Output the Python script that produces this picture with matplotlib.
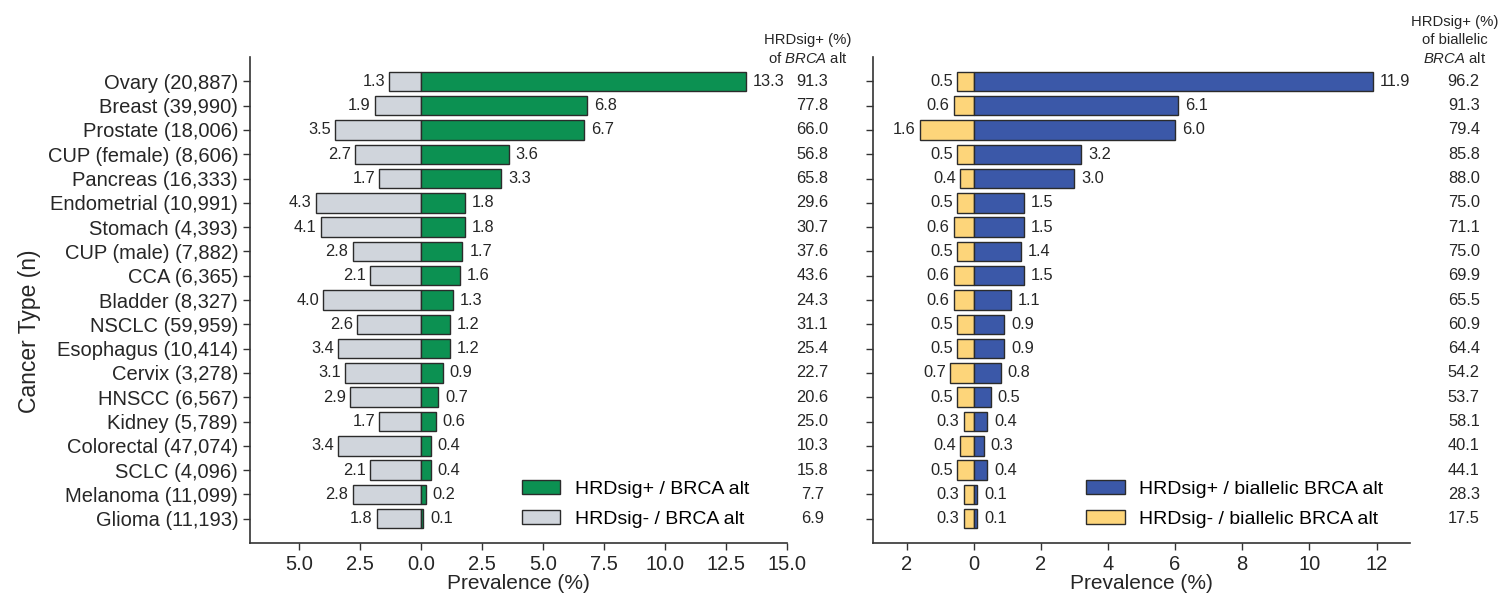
import matplotlib
matplotlib.use("Agg")
import matplotlib.pyplot as plt
from matplotlib.ticker import FuncFormatter, MultipleLocator
from matplotlib.patches import Patch
import numpy as np

plt.rcParams['font.family'] = ['Liberation Sans', 'DejaVu Sans']
plt.rcParams['mathtext.fontset'] = 'custom'
plt.rcParams['mathtext.rm'] = 'Liberation Sans'
plt.rcParams['mathtext.it'] = 'Liberation Sans:italic'

cancer_types = ["Ovary (20,887)", "Breast (39,990)", "Prostate (18,006)",
                "CUP (female) (8,606)", "Pancreas (16,333)", "Endometrial (10,991)",
                "Stomach (4,393)", "CUP (male) (7,882)", "CCA (6,365)",
                "Bladder (8,327)", "NSCLC (59,959)", "Esophagus (10,414)",
                "Cervix (3,278)", "HNSCC (6,567)", "Kidney (5,789)",
                "Colorectal (47,074)", "SCLC (4,096)", "Melanoma (11,099)",
                "Glioma (11,193)"]

# Prevalence (%) among all BRCA-altered tumours
brca_pos = [13.3, 6.8, 6.7, 3.6, 3.3, 1.8, 1.8, 1.7, 1.6, 1.3, 1.2, 1.2, 0.9,
            0.7, 0.6, 0.4, 0.4, 0.2, 0.1]
brca_neg = [1.3, 1.9, 3.5, 2.7, 1.7, 4.3, 4.1, 2.8, 2.1, 4.0, 2.6, 3.4, 3.1,
            2.9, 1.7, 3.4, 2.1, 2.8, 1.8]
brca_pct = [91.3, 77.8, 66.0, 56.8, 65.8, 29.6, 30.7, 37.6, 43.6, 24.3, 31.1,
            25.4, 22.7, 20.6, 25.0, 10.3, 15.8, 7.7, 6.9]

# Prevalence (%) among biallelic BRCA-altered tumours
bi_pos = [11.9, 6.1, 6.0, 3.2, 3.0, 1.5, 1.5, 1.4, 1.5, 1.1, 0.9, 0.9, 0.8,
          0.5, 0.4, 0.3, 0.4, 0.1, 0.1]
bi_neg = [0.5, 0.6, 1.6, 0.5, 0.4, 0.5, 0.6, 0.5, 0.6, 0.6, 0.5, 0.5, 0.7,
          0.5, 0.3, 0.4, 0.5, 0.3, 0.3]
bi_pct = [96.2, 91.3, 79.4, 85.8, 88.0, 75.0, 71.1, 75.0, 69.9, 65.5, 60.9,
          64.4, 54.2, 53.7, 58.1, 40.1, 44.1, 28.3, 17.5]

TXT = "#262626"
EDGE = "#2b2b2b"
GREEN, GRAY = "#0c9152", "#d0d5dc"
BLUE, YELLOW = "#3b58a8", "#fdd57a"

fig = plt.figure(figsize=(14.98, 5.94), dpi=100)
ax1 = fig.add_axes([0.1669, 0.0859, 0.3585, 0.818])
ax2 = fig.add_axes([0.5828, 0.0859, 0.3585, 0.818])

y = np.arange(len(cancer_types))


def panel(ax, pos, neg, pct, cpos, cneg, xlim, step, fmt, lab_pos, lab_neg,
          header, col_x, head_x):
    neg_vals = -np.asarray(neg)
    bn = ax.barh(y, neg_vals, height=0.8, color=cneg, edgecolor=EDGE,
                 linewidth=1.0, label=lab_neg, zorder=2)
    bp = ax.barh(y, pos, height=0.8, color=cpos, edgecolor=EDGE,
                 linewidth=1.0, label=lab_pos, zorder=3)
    ax.bar_label(bp, labels=[f"{v:.1f}" for v in pos], padding=5,
                 fontsize=11.8, color=TXT)
    ax.bar_label(bn, labels=[f"{v:.1f}" for v in neg], padding=3,
                 fontsize=11.8, color=TXT)
    ax.set_xlim(*xlim)
    ax.set_ylim(len(y), -1)
    ax.xaxis.set_major_locator(MultipleLocator(step))
    ax.xaxis.set_major_formatter(FuncFormatter(lambda v, p: fmt.format(abs(v))))
    ax.set_yticks(y)
    for s in ("top", "right"):
        ax.spines[s].set_visible(False)
    for s in ("left", "bottom"):
        ax.spines[s].set_color("#333333")
        ax.spines[s].set_linewidth(1.2)
    ax.tick_params(axis="both", colors="#333333", labelcolor=TXT,
                   labelsize=14.5, length=5, width=1.0)
    ax.set_xlabel("Prevalence (%)", fontsize=15, color=TXT, labelpad=0)
    tr = ax.get_yaxis_transform()
    for yi, v in zip(y, pct):
        ax.text(col_x, yi, f"{v:.1f}", transform=tr, ha="center",
                va="center", fontsize=11.8, color=TXT, clip_on=False)
    ax.text(head_x, 0.981, header, transform=ax.transAxes, ha="center",
            va="bottom", fontsize=10.7, color=TXT, linespacing=1.35)
    handles = [Patch(facecolor=cpos, edgecolor=EDGE, label=lab_pos),
               Patch(facecolor=cneg, edgecolor=EDGE, label=lab_neg)]
    return handles


h1 = panel(ax1, brca_pos, brca_neg, brca_pct, GREEN, GRAY, (-7, 15), 2.5,
           "{:.1f}", "HRDsig+ / BRCA alt", "HRDsig- / BRCA alt",
           "HRDsig+ (%)\nof $\\mathit{BRCA}$ alt", 1.047, 1.038)
ax1.set_yticklabels(cancer_types)
fig.text(0.02, 0.4428, "Cancer Type (n)", rotation=90, ha="center",
         va="center", fontsize=16.5, color=TXT)
ax1.legend(handles=h1, loc="lower left", bbox_to_anchor=(0.473, -0.005),
           frameon=False, fontsize=14, handlelength=2.0, handleheight=0.75,
           labelspacing=0.62, handletextpad=0.75)

h2 = panel(ax2, bi_pos, bi_neg, bi_pct, BLUE, YELLOW, (-3, 13), 2,
           "{:.0f}", "HRDsig+ / biallelic BRCA alt",
           "HRDsig- / biallelic BRCA alt",
           "HRDsig+ (%)\nof biallelic\n$\\mathit{BRCA}$ alt", 1.1, 1.083)
ax2.set_yticklabels([])
ax2.legend(handles=h2, loc="lower left", bbox_to_anchor=(0.364, -0.005),
           frameon=False, fontsize=14, handlelength=2.0, handleheight=0.75,
           labelspacing=0.62, handletextpad=0.75)

fig.savefig("out.png", dpi=100)
